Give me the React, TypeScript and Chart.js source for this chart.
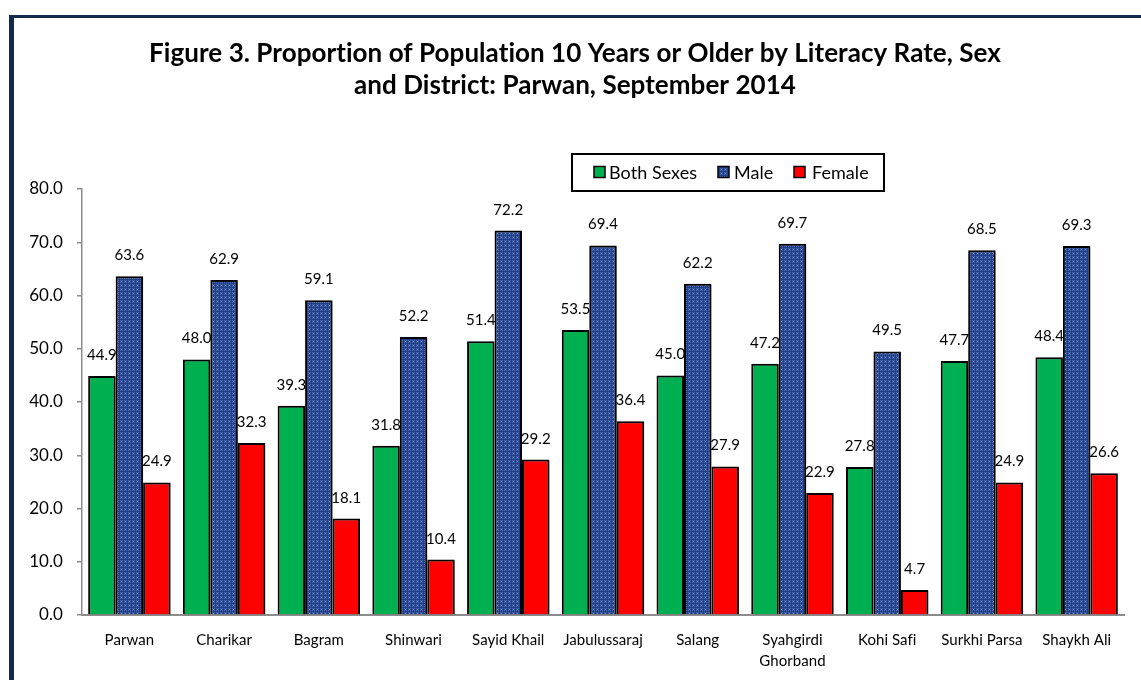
import React, { useEffect, useRef } from "react";
import { Chart, registerables } from "chart.js";

Chart.register(...registerables);

const districts: (string | string[])[] = [
  "Parwan",
  "Charikar",
  "Bagram",
  "Shinwari",
  "Sayid Khail",
  "Jabulussaraj",
  "Salang",
  ["Syahgirdi", "Ghorband"],
  "Kohi Safi",
  "Surkhi Parsa",
  "Shaykh Ali",
];

const bothSexes = [44.9, 48.0, 39.3, 31.8, 51.4, 53.5, 45.0, 47.2, 27.8, 47.7, 48.4];
const male = [63.6, 62.9, 59.1, 52.2, 72.2, 69.4, 62.2, 69.7, 49.5, 68.5, 69.3];
const female = [24.9, 32.3, 18.1, 10.4, 29.2, 36.4, 27.9, 22.9, 4.7, 24.9, 26.6];

const seriesNames = ["Both Sexes", "Male", "Female"];
const yTicks = [0, 10, 20, 30, 40, 50, 60, 70, 80];

const titleLines = [
  "Figure 3. Proportion of Population 10 Years or Older by Literacy Rate, Sex",
  "and District: Parwan, September 2014",
];

const FONT = "Lato, 'Noto Sans', sans-serif";
const GREEN = "#00B050";
const RED = "#FF0000";
const NAVY = "#203F88";
const AXIS_GREY = "#8C8C8C";

// Dotted navy fill used for the male series
function makeDotPattern(): CanvasPattern | string {
  const tile = document.createElement("canvas");
  tile.width = 4;
  tile.height = 4;
  const c = tile.getContext("2d");
  if (!c) return NAVY;
  c.fillStyle = NAVY;
  c.fillRect(0, 0, 4, 4);
  c.fillStyle = "#4D6DB5";
  c.fillRect(0, 0, 1, 1);
  c.fillRect(2, 0, 1, 1);
  c.fillRect(0, 2, 1, 1);
  c.fillRect(2, 2, 1, 1);
  c.fillStyle = "#8AA6E0";
  c.fillRect(1, 1, 1, 1);
  const pat = c.createPattern(tile, "repeat");
  return pat || NAVY;
}

export default function App() {
  const canvasRef = useRef<HTMLCanvasElement | null>(null);

  useEffect(() => {
    const canvas = canvasRef.current;
    if (!canvas) return;
    const dots = makeDotPattern();
    const fills = [GREEN, dots, RED];

    // A hair of letter spacing keeps Lato from joining "ti"/"fi" into ligatures
    const noLigatures = {
      id: "noLigatures",
      beforeDraw(chart: any) {
        (chart.ctx as any).letterSpacing = "0.05px";
      },
    };

    // Value labels sit behind the bars, so neighbouring bars may cover them
    const valueLabels = {
      id: "valueLabels",
      beforeDatasetsDraw(chart: any) {
        const ctx = chart.ctx;
        ctx.save();
        ctx.font = `15px ${FONT}`;
        ctx.fillStyle = "#000";
        ctx.textAlign = "center";
        ctx.textBaseline = "alphabetic";
        chart.data.datasets.forEach((ds: any, i: number) => {
          const meta = chart.getDatasetMeta(i);
          meta.data.forEach((el: any, j: number) => {
            ctx.fillText(Number(ds.data[j]).toFixed(1), el.x, el.y - 16);
          });
        });
        ctx.restore();
        // soft drop shadow for the bars
        ctx.save();
        ctx.shadowColor = "rgba(0,0,0,0.35)";
        ctx.shadowOffsetX = 2;
        ctx.shadowOffsetY = 1;
        ctx.shadowBlur = 1;
      },
      afterDatasetsDraw(chart: any) {
        chart.ctx.restore();
      },
    };

    const headerAndLegend = {
      id: "headerAndLegend",
      afterDraw(chart: any) {
        const ctx = chart.ctx;
        ctx.save();
        // title
        ctx.font = `bold 26px ${FONT}`;
        ctx.fillStyle = "#000";
        ctx.textAlign = "center";
        ctx.textBaseline = "alphabetic";
        titleLines.forEach((line, k) => ctx.fillText(line, 575, 62 + k * 32));

        // legend box
        const bx = 572, by = 154, bw = 312, bh = 37;
        ctx.fillStyle = "#fff";
        ctx.fillRect(bx, by, bw, bh);
        ctx.lineWidth = 2;
        ctx.strokeStyle = "#000";
        ctx.strokeRect(bx, by, bw, bh);

        const swatchX = [594, 718, 794];
        const textX = [609, 734, 812];
        const cy = by + bh / 2;
        ctx.font = `18px ${FONT}`;
        ctx.textAlign = "left";
        ctx.textBaseline = "middle";
        seriesNames.forEach((name, k) => {
          ctx.fillStyle = fills[k];
          ctx.fillRect(swatchX[k], cy - 6, 11, 11);
          ctx.lineWidth = 1.5;
          ctx.strokeStyle = "#000";
          ctx.strokeRect(swatchX[k], cy - 6, 11, 11);
          ctx.fillStyle = "#000";
          ctx.fillText(name, textX[k], cy + 1);
        });
        ctx.restore();
      },
    };

    const chart = new Chart(canvas, {
      type: "bar",
      data: {
        labels: districts,
        datasets: [
          { label: seriesNames[0], data: bothSexes, backgroundColor: GREEN },
          { label: seriesNames[1], data: male, backgroundColor: dots as any },
          { label: seriesNames[2], data: female, backgroundColor: RED },
        ].map((d) => ({
          ...d,
          borderColor: "#000",
          borderWidth: 2,
          borderSkipped: "bottom",
          categoryPercentage: 0.87,
          barPercentage: 1.0,
        })),
      },
      options: {
        responsive: false,
        animation: false,
        devicePixelRatio: 1,
        layout: { padding: { top: 189, right: 17, left: 0, bottom: 0 } },
        plugins: {
          legend: { display: false },
          title: { display: false },
          tooltip: { enabled: false },
        },
        scales: {
          x: {
            grid: { display: false, drawTicks: false },
            border: { display: true, color: AXIS_GREY, width: 2 },
            ticks: {
              color: "#000",
              font: { family: FONT, size: 15, lineHeight: 1.45 },
              padding: 14,
              maxRotation: 0,
              autoSkip: false,
            },
            afterFit(scale: any) {
              scale.height = 65;
            },
          },
          y: {
            min: 0,
            max: 80,
            afterBuildTicks(scale: any) {
              scale.ticks = yTicks.map((v) => ({ value: v }));
            },
            grid: {
              display: true,
              drawOnChartArea: false,
              drawTicks: true,
              tickLength: 5,
              color: AXIS_GREY,
              lineWidth: 1.5,
            },
            border: { display: true, color: AXIS_GREY, width: 1.5 },
            ticks: {
              color: "#000",
              font: { family: FONT, size: 17 },
              padding: 14,
              callback: (v: any) => Number(v).toFixed(1),
            },
            afterFit(scale: any) {
              scale.width = 82;
            },
          },
        },
      },
      plugins: [noLigatures, valueLabels, headerAndLegend],
    });

    return () => chart.destroy();
  }, []);

  return (
    <div
      style={{
        position: "fixed",
        left: 0,
        top: 0,
        width: 1141,
        height: 680,
        overflow: "hidden",
        background: "#fff",
      }}
    >
      <canvas ref={canvasRef} width={1141} height={680} style={{ display: "block" }} />
      <div
        style={{
          position: "absolute",
          left: 9,
          top: 15,
          width: 1200,
          height: 800,
          borderTop: "3px solid #16294A",
          borderLeft: "5px solid #16294A",
          pointerEvents: "none",
        }}
      />
    </div>
  );
}
